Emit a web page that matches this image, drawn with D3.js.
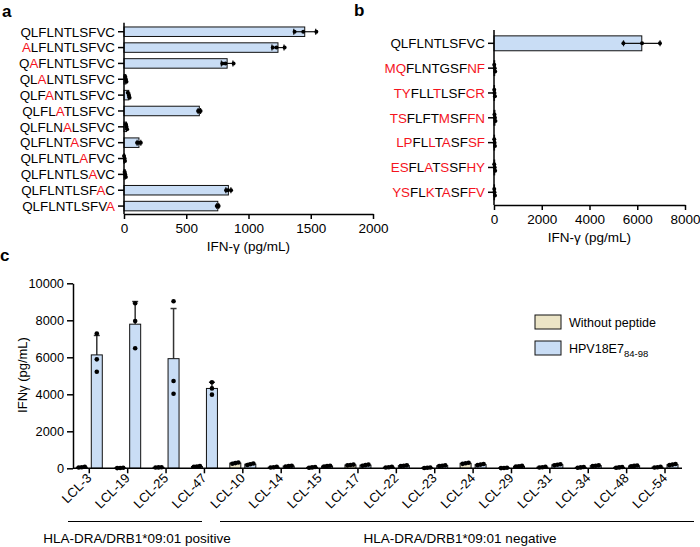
<!DOCTYPE html>
<html><head><meta charset="utf-8">
<script src="https://cdn.jsdelivr.net/npm/d3@7"></script>
<style>
body{margin:0;background:#fff;}
svg{display:block;font-family:"Liberation Sans",Arial,sans-serif;}
</style></head>
<body>
<svg id="chart" width="700" height="547"></svg>
<script>
// ---------- Panel a data ----------
const peptidesA = ["QLFLNTLSFVC","ALFLNTLSFVC","QAFLNTLSFVC","QLALNTLSFVC","QLFANTLSFVC","QLFLATLSFVC",
                   "QLFLNALSFVC","QLFLNTASFVC","QLFLNTLAFVC","QLFLNTLSAVC","QLFLNTLSFAC","QLFLNTLSFVA"];
const redPosA = [-1,0,1,2,3,4,5,6,7,8,9,10];
const repsA = [[1370,1440,1545],[1195,1225,1290],[790,815,880],[10,15,20],[30,40,45],[595,605,615],
               [15,20,25],[105,120,135],[0,5,8],[5,10,15],[820,835,860],[745,755,760]];
const ticksA = [0,500,1000,1500,2000];

// ---------- Panel b data ----------
const peptidesB = ["QLFLNTLSFVC","MQFLNTGSFNF","TYFLLTLSFCR","TSFLFTMSFFN","LPFLLTASFSF","ESFLATSSFHY","YSFLKTASFFV"];
const redMaskB  = ["00000000000","11000000011","11000100011","11000010011","11001010011","11001010011","11001010011"];
const repsB = [[5420,6200,6950],[10,30,50],[10,20,40],[20,40,60],[10,25,40],[10,30,50],[10,20,40]];
const ticksB = [0,2000,4000,6000,8000];

// ---------- Panel c data ----------
const cellLines = ["LCL-3","LCL-19","LCL-25","LCL-47","LCL-10","LCL-14","LCL-15","LCL-17",
                   "LCL-22","LCL-23","LCL-24","LCL-29","LCL-31","LCL-34","LCL-48","LCL-54"];
const groupsC = ["Without peptide","HPV18E7"];
const withoutPeptide = [[40,60,80],[10,20,30],[40,50,60],[80,100,120],[250,280,310],[40,60,80],[30,50,70],[160,180,200],
                        [40,60,80],[20,30,40],[240,270,300],[10,20,30],[40,60,80],[30,50,70],[30,50,70],[40,60,80]];
const hpv18E7 = [[5220,5890,7280],[6490,7960,8920],[4030,4720,9030],[3980,4320,4650],[180,220,260],[100,120,140],[100,120,140],[140,170,200],
                 [120,140,160],[120,140,160],[170,200,230],[90,110,130],[160,190,220],[120,140,160],[110,130,150],[170,200,230]];
const ticksC = [0,2000,4000,6000,8000,10000];

const BLUE = "#c9ddf5", BEIGE = "#ebe4c6", RED = "#f5141e";
const svg = d3.select("#chart");

function panelLabel(t,x,y){
  svg.append("text").attr("x",x).attr("y",y).attr("font-weight","bold").attr("font-size",17).text(t);
}
panelLabel("a",2,17); panelLabel("b",354,16); panelLabel("c",0,261);

// Horizontal bar panel helper
function hPanel(opts){
  const {peptides, reps, ticks, x, y, colorFn, axisY, dotOff} = opts;
  const g = svg.append("g");
  const stats = reps.map(r=>({m:d3.mean(r), sd:d3.deviation(r)}));
  g.selectAll("rect.bar").data(peptides).join("rect")
    .attr("x", x(0)).attr("y", d=>y(d))
    .attr("width", (d,i)=>Math.max(0, x(stats[i].m)-x(0)))
    .attr("height", y.bandwidth())
    .attr("fill", BLUE).attr("stroke","#111").attr("stroke-width",1);
  peptides.forEach((p,i)=>{
    const cy = y(p)+y.bandwidth()/2, s = stats[i];
    const lo = x(Math.max(0,s.m-s.sd)), hi = x(s.m+s.sd);
    g.append("line").attr("x1",lo).attr("x2",hi).attr("y1",cy).attr("y2",cy).attr("stroke","#111").attr("stroke-width",1.2);
    [lo,hi].forEach(xx=>g.append("line").attr("x1",xx).attr("x2",xx).attr("y1",cy-3).attr("y2",cy+3).attr("stroke","#111").attr("stroke-width",1.2));
    const small = s.m < (x.domain()[1]*0.05);
    reps[i].forEach((v,k)=>{
      g.append("circle").attr("cx",x(v)).attr("cy", cy + (small ? (k-1)*dotOff : 0)).attr("r",2).attr("fill","#000");
    });
  });
  const xAxis = d3.axisBottom(x).tickValues(ticks).tickSize(5).tickSizeOuter(0).tickPadding(4).tickFormat(d3.format("d"));
  const ax = g.append("g").attr("transform",`translate(0,${axisY})`).call(xAxis);
  ax.select(".domain").attr("stroke-width",1.5);
  ax.selectAll(".tick line").attr("stroke-width",1.5);
  ax.selectAll("text").attr("font-size",13.5).attr("font-family","Liberation Sans, Arial");
  const yAxis = d3.axisLeft(y).tickSize(6).tickSizeOuter(0).tickFormat("");
  const ay = g.append("g").attr("transform",`translate(${x(0)},0)`).call(yAxis);
  ay.select(".domain").remove();
  g.append("line").attr("x1",x(0)).attr("x2",x(0)).attr("y1",y.range()[0]-1).attr("y2",axisY).attr("stroke","#000").attr("stroke-width",1.5);
  ay.selectAll(".tick line").attr("stroke-width",1.5);
  peptides.forEach((p,i)=>{
    const t = g.append("text").attr("x",x(0)-9).attr("y",y(p)+y.bandwidth()/2).attr("dy","0.36em")
      .attr("text-anchor","end").attr("font-size",13.4);
    p.split("").forEach((ch,k)=>{
      t.append("tspan").attr("fill", colorFn(i,k) ? RED : "#000").text(ch);
    });
  });
  g.append("text").attr("x",(x.range()[0]+x.range()[1])/2).attr("y",axisY+37).attr("text-anchor","middle")
    .attr("font-size",13.5).text("IFN-γ (pg/mL)");
}

// Panel a
const xA = d3.scaleLinear().domain([0,2000]).range([124,373]);
const yA = d3.scaleBand().domain(peptidesA).range([23.8,214]).paddingInner(0.4).paddingOuter(0.2);
hPanel({peptides:peptidesA, reps:repsA, ticks:ticksA, x:xA, y:yA, axisY:214, dotOff:2.5,
        colorFn:(i,k)=>redPosA[i]===k});

// Panel b
const xB = d3.scaleLinear().domain([0,8000]).range([494,685]);
const yB = d3.scaleBand().domain(peptidesB).range([30.9,204.7]).paddingInner(0.4).paddingOuter(0.2);
hPanel({peptides:peptidesB, reps:repsB, ticks:ticksB, x:xB, y:yB, axisY:205, dotOff:3.3,
        colorFn:(i,k)=>redMaskB[i][k]==="1"});

// ---------- Panel c ----------
const x0 = d3.scaleBand().domain(cellLines).range([70.1,684.2]).padding(0);
const x1 = d3.scaleBand().domain(groupsC).range([-13,13]).paddingInner(0.267);
const yC = d3.scaleLinear().domain([0,10000]).range([468.3,283.3]);
const gc = svg.append("g");
const seriesC = [withoutPeptide, hpv18E7];
const fills = [BEIGE, BLUE];
seriesC.forEach((ser,si)=>{
  cellLines.forEach((c,ci)=>{
    const r = ser[ci], m = d3.mean(r), sd = d3.deviation(r);
    const cx = x0(c)+x0.bandwidth()/2 + x1(groupsC[si]);
    const bw = x1.bandwidth();
    gc.append("line").attr("x1",cx+bw/2).attr("x2",cx+bw/2).attr("y1",yC(m)).attr("y2",yC(m+sd)).attr("stroke","#333").attr("stroke-width",1.5);
    gc.append("line").attr("x1",cx+bw/2-3).attr("x2",cx+bw/2+3).attr("y1",yC(m+sd)).attr("y2",yC(m+sd)).attr("stroke","#333").attr("stroke-width",1.5);
    gc.append("rect").attr("x",cx).attr("y",yC(m)).attr("width",bw).attr("height",yC(0)-yC(m))
      .attr("fill",fills[si]).attr("stroke","#111").attr("stroke-width",1);
    const small = m < 500;
    r.forEach((v,k)=>{
      gc.append("circle").attr("cx",cx+bw/2 + (small ? (k-1)*3 : 0)).attr("cy",yC(v)).attr("r",2.3).attr("fill","#000");
    });
  });
});
const ayc = gc.append("g").attr("transform","translate(73,0)")
  .call(d3.axisLeft(yC).tickValues(ticksC).tickSize(6).tickSizeOuter(0).tickPadding(3).tickFormat(d3.format("d")));
ayc.select(".domain").attr("stroke-width",1.5);
ayc.selectAll(".tick line").attr("stroke-width",1.5);
ayc.selectAll("text").attr("font-size",12.8).attr("font-family","Liberation Sans, Arial");
const axc = gc.append("g").attr("transform","translate(0,468.3)")
  .call(d3.axisBottom(x0).tickSize(5).tickSizeOuter(0).tickFormat(""));
axc.select(".domain").remove();
axc.selectAll(".tick line").attr("stroke-width",1.5);
gc.append("line").attr("x1",73).attr("x2",682).attr("y1",468.3).attr("y2",468.3).attr("stroke","#000").attr("stroke-width",1.5);
cellLines.forEach(c=>{
  const tx = x0(c)+x0.bandwidth()/2;
  gc.append("text").attr("transform",`translate(${tx+3},${479}) rotate(-45)`).attr("text-anchor","end")
    .attr("font-size",13).text(c);
});
gc.append("text").attr("transform","translate(27,375) rotate(-90)").attr("text-anchor","middle").attr("font-size",13).text("IFNγ (pg/mL)");
gc.append("line").attr("x1",68).attr("x2",202).attr("y1",521.5).attr("y2",521.5).attr("stroke","#000").attr("stroke-width",1);
gc.append("line").attr("x1",220).attr("x2",694).attr("y1",521.5).attr("y2",521.5).attr("stroke","#000").attr("stroke-width",1);
gc.append("text").attr("x",137).attr("y",543).attr("text-anchor","middle").attr("font-size",13.5).text("HLA-DRA/DRB1*09:01 positive");
gc.append("text").attr("x",460).attr("y",543).attr("text-anchor","middle").attr("font-size",13.5).text("HLA-DRA/DRB1*09:01 negative");
const leg = gc.append("g");
groupsC.forEach((gname,i)=>{
  const yy = 315 + i*26;
  leg.append("rect").attr("x",535).attr("y",yy).attr("width",26).attr("height",14).attr("fill",fills[i]).attr("stroke","#111").attr("stroke-width",1);
  const t = leg.append("text").attr("x",569).attr("y",yy+12).attr("font-size",12.5);
  if(i===0) t.text(gname);
  else { t.append("tspan").text(gname); t.append("tspan").attr("font-size",9.5).attr("dy",3.5).text("84-98"); }
});
</script>
</body></html>
